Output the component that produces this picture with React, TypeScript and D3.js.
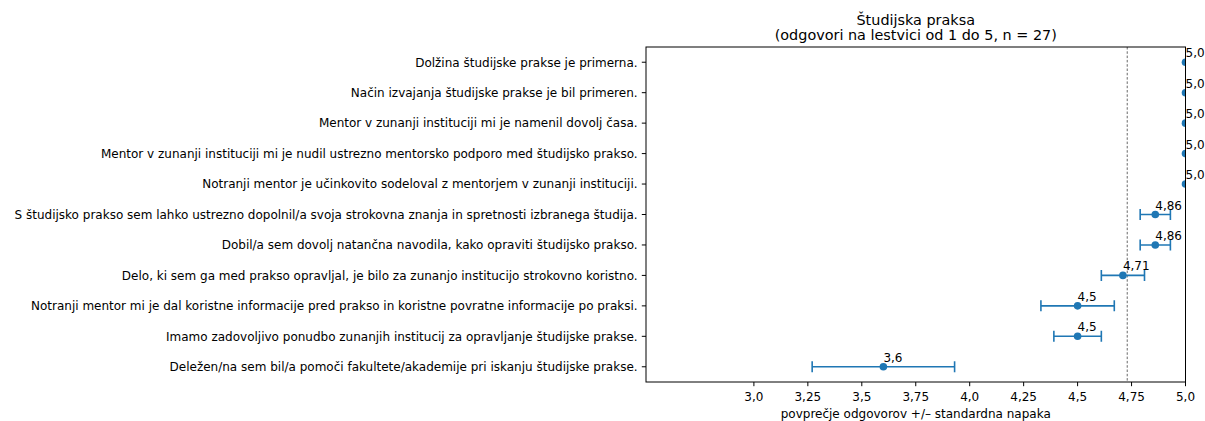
import React from "react";
import * as d3 from "d3";

const categories = [
  "Dolžina študijske prakse je primerna.",
  "Način izvajanja študijske prakse je bil primeren.",
  "Mentor v zunanji instituciji mi je namenil dovolj časa.",
  "Mentor v zunanji instituciji mi je nudil ustrezno mentorsko podporo med študijsko prakso.",
  "Notranji mentor je učinkovito sodeloval z mentorjem v zunanji instituciji.",
  "S študijsko prakso sem lahko ustrezno dopolnil/a svoja strokovna znanja in spretnosti izbranega študija.",
  "Dobil/a sem dovolj natančna navodila, kako opraviti študijsko prakso.",
  "Delo, ki sem ga med prakso opravljal, je bilo za zunanjo institucijo strokovno koristno.",
  "Notranji mentor mi je dal koristne informacije pred prakso in koristne povratne informacije po praksi.",
  "Imamo zadovoljivo ponudbo zunanjih institucij za opravljanje študijske prakse.",
  "Deležen/na sem bil/a pomoči fakultete/akademije pri iskanju študijske prakse.",
];
const means = [5, 5, 5, 5, 5, 4.86, 4.86, 4.71, 4.5, 4.5, 3.6];
const stdErrors = [0, 0, 0, 0, 0, 0.07, 0.07, 0.1, 0.17, 0.11, 0.33];
const valueLabels = ["5,0", "5,0", "5,0", "5,0", "5,0", "4,86", "4,86", "4,71", "4,5", "4,5", "3,6"];
const xTicks = [3, 3.25, 3.5, 3.75, 4, 4.25, 4.5, 4.75, 5];
const xTickLabels = ["3,0", "3,25", "3,5", "3,75", "4,0", "4,25", "4,5", "4,75", "5,0"];
const titleLines = ["Študijska praksa", "(odgovori na lestvici od 1 do 5, n = 27)"];
const xLabel = "povprečje odgovorov +/– standardna napaka";

const W = 1205;
const H = 421;
const L = 646;
const R = 1185.5;
const T = 47;
const B = 382;
const BLUE = "#1f77b4";
const FONT = "DejaVu Sans, sans-serif";
const TICK = 4.2;

export default function App() {
  const x = d3.scaleLinear().domain([2.5, 5]).range([L, R]);
  const y = d3.scaleLinear().domain([-0.5, categories.length - 0.5]).range([T, B]);
  const overall = d3.mean(means) as number;
  const cx = (L + R) / 2;

  return (
    <svg
      width={W}
      height={H}
      style={{ position: "absolute", left: 0, top: 0, background: "#fff" }}
      fontFamily={FONT}
    >
      <defs>
        <clipPath id="axclip">
          <rect x={L} y={T} width={R - L} height={B - T} />
        </clipPath>
      </defs>
      {/* title */}
      {titleLines.map((t, i) => (
        <text key={i} x={cx} y={24.5 + i * 15.5} fontSize={14.4} textAnchor="middle" fill="#000">
          {t}
        </text>
      ))}
      {/* reference line */}
      <line
        x1={x(overall)}
        x2={x(overall)}
        y1={T}
        y2={B}
        stroke="#000"
        strokeWidth={0.6}
        strokeDasharray="2.5,1.8"
      />
      {/* error bars */}
      <g clipPath="url(#axclip)">
        {means.map((m, i) =>
          stdErrors[i] > 0 ? (
            <g key={i} stroke={BLUE} strokeWidth={1.6}>
              <line x1={x(m - stdErrors[i])} x2={x(m + stdErrors[i])} y1={y(i)} y2={y(i)} />
              <line x1={x(m - stdErrors[i])} x2={x(m - stdErrors[i])} y1={y(i) - 5.5} y2={y(i) + 5.5} />
              <line x1={x(m + stdErrors[i])} x2={x(m + stdErrors[i])} y1={y(i) - 5.5} y2={y(i) + 5.5} />
            </g>
          ) : null
        )}
        {means.map((m, i) => (
          <circle key={i} cx={x(m)} cy={y(i)} r={3.8} fill={BLUE} />
        ))}
      </g>
      {/* value labels */}
      {means.map((m, i) => (
        <text key={i} x={x(m)} y={y(i) - 5} fontSize={12} fill="#000">
          {valueLabels[i]}
        </text>
      ))}
      {/* spines */}
      <rect x={L} y={T} width={R - L} height={B - T} fill="none" stroke="#000" strokeWidth={1} />
      {/* x ticks */}
      {xTicks.map((v, i) => (
        <g key={i}>
          <line x1={x(v)} x2={x(v)} y1={B} y2={B + TICK} stroke="#000" strokeWidth={1} />
          <text x={x(v)} y={400.5} fontSize={12} textAnchor="middle" fill="#000">
            {xTickLabels[i]}
          </text>
        </g>
      ))}
      <text x={cx} y={417.5} fontSize={12} textAnchor="middle" fill="#000">
        {xLabel}
      </text>
      {/* y ticks */}
      {categories.map((c, i) => (
        <g key={i}>
          <line x1={L - TICK} x2={L} y1={y(i)} y2={y(i)} stroke="#000" strokeWidth={1} />
          <text x={L - 2 * TICK} y={y(i) + 4.3} fontSize={12} textAnchor="end" fill="#000">
            {c}
          </text>
        </g>
      ))}
    </svg>
  );
}
